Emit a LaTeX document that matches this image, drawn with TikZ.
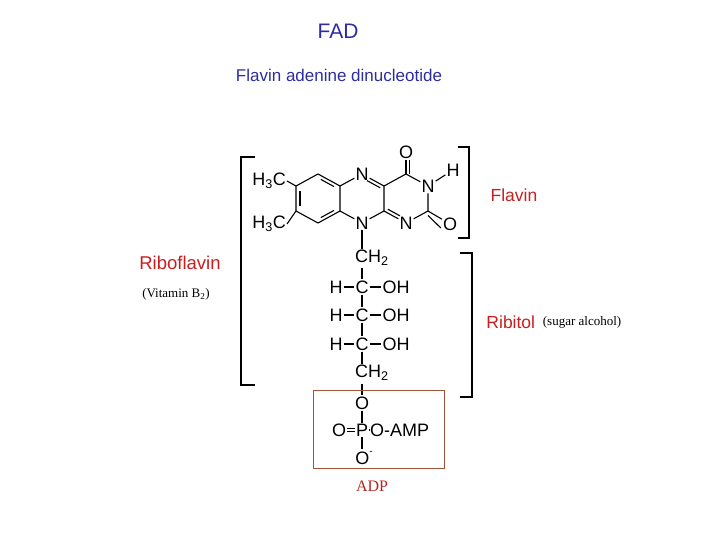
\documentclass[tikz,border=0pt]{standalone}
\usepackage{fontspec}
\usetikzlibrary{calc}
\setmainfont{Liberation Sans}
\newfontfamily\serif{Liberation Serif}
\definecolor{ttl}{RGB}{45,45,160}
\definecolor{lbl}{RGB}{200,30,30}
\definecolor{box}{RGB}{165,85,55}
\definecolor{adpc}{RGB}{175,40,30}
\newcommand{\sbs}[1]{\textsubscript{#1}}
\begin{document}
\begin{tikzpicture}[x=1pt,y=-1pt,line width=1.1pt,
 atm/.style={inner sep=0.6pt,font=\fontsize{18}{18}\selectfont},
 lab/.style={text=lbl,font=\fontsize{17.5}{17.5}\selectfont},
 brk/.style={line width=1.2pt}]
\useasboundingbox (0,0) rectangle (720,540);
\node[text=ttl,font=\fontsize{21}{21}\selectfont] (t1) at (338,31) {FAD};
\node[text=ttl,font=\fontsize{17}{17}\selectfont] (t2) at (339,75) {Flavin adenine dinucleotide};
% ring coordinates
\coordinate (a1) at (318,174); \coordinate (a2) at (340,186); \coordinate (a3) at (340,211);
\coordinate (a4) at (318,223); \coordinate (a5) at (296,211); \coordinate (a6) at (296,186);
\node[atm] (n1) at (362,174) {N}; \coordinate (b2) at (384,186); \coordinate (b3) at (384,211);
\node[atm] (n2) at (362,223) {N};
\coordinate (c1) at (406,174); \node[atm] (n3) at (428,186) {N}; \coordinate (c3) at (428,211);
\node[atm] (n4) at (406,223) {N};
\node[atm] (o1) at (406,152) {O}; \node[atm] (o2) at (450,224) {O}; \node[atm] (h1) at (453,170) {H};
\node[atm,anchor=east] (m1) at (287,181) {H\sbs{3}C};
\node[atm,anchor=east] (m2) at (287,224) {H\sbs{3}C};
% benzene
\draw (a1)--(a2)--(a3)--(a4)--(a5)--(a6)--cycle;
\draw ($(a1)!0.2!(a2)+(-1.6,3)$) -- ($(a1)!0.8!(a2)+(-1.6,3)$);
\draw ($(a3)!0.2!(a4)+(-1.6,-3)$) -- ($(a3)!0.8!(a4)+(-1.6,-3)$);
\draw ($(a5)!0.2!(a6)+(4,0)$) -- ($(a5)!0.8!(a6)+(4,0)$);
\draw (a6)--(m1.east); \draw (a5)--(m2.east);
% central ring
\draw (a2)--(n1)--(b2)--(b3)--(n2)--(a3);
\draw ($(n1)!0.3!(b2)+(-1.6,3)$) -- ($(n1)!0.9!(b2)+(-1.6,3)$);
% right ring
\draw (b2)--(c1)--(n3)--(c3)--(n4)--(b3);
\draw ($(b3)!0.1!(n4)+(1.6,-3)$) -- ($(b3)!0.65!(n4)+(1.6,-3)$);
\draw (c1)--(o1); \draw ($(c1)+(3.5,0)$) -- ($(o1.south)+(3.5,0)$);
\draw (c3)--(o2); \draw ($(c3)+(0,4.5)$) -- ($(o2.west)+(-1,4)$);
\draw (n3)--(h1);
% chain
\node[atm,anchor=west] (ch1) at (354,258) {CH\sbs{2}};
\node[atm] (cA) at (362,287) {C}; \node[atm] (cB) at (362,315) {C}; \node[atm] (cC) at (362,344) {C};
\node[atm] (hA) at (336,287) {H}; \node[atm] (hB) at (336,315) {H}; \node[atm] (hC) at (336,344) {H};
\node[atm] (oA) at (396,287) {OH}; \node[atm] (oB) at (396,315) {OH}; \node[atm] (oC) at (396,344) {OH};
\node[atm,anchor=west] (ch2) at (354,373) {CH\sbs{2}};
\node[atm] (op) at (362,403) {O};
\node[atm] (p) at (362,430) {P};
\node[atm] (pO) at (339,430) {O};
\node[atm,anchor=west] (amp) at (369,430) {O-AMP};
\node[atm] (om) at (364,458) {O\raisebox{1.1ex}{\fontsize{10}{10}\selectfont -}};
\draw (n2.south)--(362,249);
\foreach \u/\v in {cA/cB,cB/cC} \draw (\u)--(\v);
\draw (362,268)--(cA); \draw (cC)--(362,364); \draw (362,384)--(op); \draw (op)--(p); \draw (p)--(362,449);
\foreach \c in {A,B,C}{\draw (h\c)--(c\c); \draw (c\c)--(o\c);}
\draw ([yshift=-1.5pt]pO.east)--([yshift=-1.5pt]p.west); \draw ([yshift=1.5pt]pO.east)--([yshift=1.5pt]p.west);
\draw (p.east)--(amp.west);
\draw[box,line width=0.9pt] (313,390) rectangle (444,468);
\node[text=adpc,font=\serif\fontsize{16}{16}\selectfont] (adp) at (372,486) {ADP};
% brackets
\draw[brk] (255,157)--(241,157)--(241,385)--(255,385);
\draw[brk] (458,147)--(469,147)--(469,238)--(458,238);
\draw[brk] (460,253)--(472,253)--(472,397)--(460,397);
\node[lab] (fl) at (514,195) {Flavin};
\node[lab,font=\fontsize{18.5}{18.5}\selectfont] (rf) at (180,263) {Riboflavin};
\node[font=\serif\fontsize{13}{13}\selectfont] (vb) at (176,294) {(Vitamin B\sbs{2})};
\node[lab,anchor=east] (rb) at (539,322) {Ribitol};
\node[font=\serif\fontsize{13}{13}\selectfont,anchor=west] (sa) at (539,322) {(sugar alcohol)};
\end{tikzpicture}
\end{document}
